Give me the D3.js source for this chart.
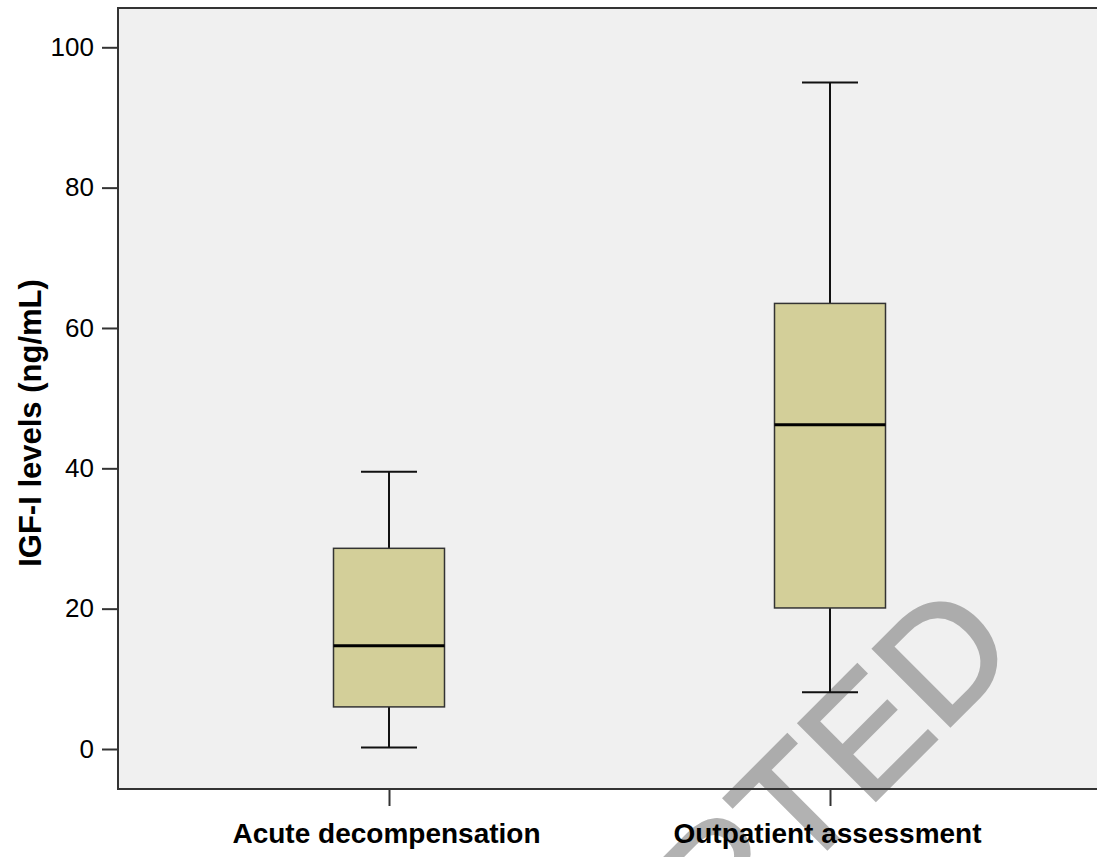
<!DOCTYPE html>
<html>
<head>
<meta charset="utf-8">
<script src="https://cdn.jsdelivr.net/npm/d3@7"></script>
<style>
  body { margin: 0; background: #fff; }
  svg { display: block; font-family: "Liberation Sans", Arial, sans-serif; }
</style>
</head>
<body>
<div id="chart"></div>
<script>
// box plot summary values
const groups = ['Acute decompensation', 'Outpatient assessment'];
const whiskerLow = [0.2, 8.1];
const q1 = [6.0, 20.1];
const median = [14.7, 46.2];
const q3 = [28.6, 63.5];
const whiskerHigh = [39.5, 95.0];
const yTicks = [0, 20, 40, 60, 80, 100];

const width = 1097, height = 857;
const margin = {top: 8, right: -4, bottom: 68, left: 118};

const svg = d3.select('#chart').append('svg')
  .attr('width', width)
  .attr('height', height);

const w = width - margin.left - margin.right;
const h = height - margin.top - margin.bottom;

const x = d3.scalePoint()
  .domain(groups)
  .range([271, 712]);

const y = d3.scaleLinear()
  .domain([-5.7, 105.6])
  .range([h, 0]);

const g = svg.append('g')
  .attr('transform', `translate(${margin.left},${margin.top})`);

g.append('rect')
  .attr('width', w)
  .attr('height', h)
  .attr('fill', '#f0f0f0');

// watermark, under the marks and texts
svg.append('g')
  .attr('opacity', 0.6)
  .append('text')
  .attr('transform', 'translate(1022,654) rotate(-45)')
  .attr('text-anchor', 'end')
  .attr('font-size', 158)
  .attr('fill', '#808080')
  .attr('stroke', '#808080')
  .attr('stroke-width', 3)
  .text('ACCEPTED');

const plot = svg.append('g')
  .attr('transform', `translate(${margin.left},${margin.top})`);

const boxW = 111, capW = 56;
const data = groups.map((d, i) => ({
  name: d, lo: whiskerLow[i], q1: q1[i], med: median[i], q3: q3[i], hi: whiskerHigh[i]
}));

const box = plot.selectAll('.box')
  .data(data)
  .enter().append('g')
  .attr('class', 'box')
  .attr('transform', d => `translate(${x(d.name)},0)`);

box.append('line')
  .attr('y1', d => y(d.hi)).attr('y2', d => y(d.q3))
  .attr('stroke', '#111').attr('stroke-width', 2);
box.append('line')
  .attr('y1', d => y(d.q1)).attr('y2', d => y(d.lo))
  .attr('stroke', '#111').attr('stroke-width', 2);
box.append('line')
  .attr('x1', -capW / 2).attr('x2', capW / 2)
  .attr('y1', d => y(d.hi)).attr('y2', d => y(d.hi))
  .attr('stroke', '#111').attr('stroke-width', 2);
box.append('line')
  .attr('x1', -capW / 2).attr('x2', capW / 2)
  .attr('y1', d => y(d.lo)).attr('y2', d => y(d.lo))
  .attr('stroke', '#111').attr('stroke-width', 2);
box.append('rect')
  .attr('x', -boxW / 2)
  .attr('width', boxW)
  .attr('y', d => y(d.q3))
  .attr('height', d => y(d.q1) - y(d.q3))
  .attr('fill', '#d3cf99')
  .attr('stroke', '#333')
  .attr('stroke-width', 1.5);
box.append('line')
  .attr('x1', -boxW / 2).attr('x2', boxW / 2)
  .attr('y1', d => y(d.med)).attr('y2', d => y(d.med))
  .attr('stroke', '#000').attr('stroke-width', 3);

// frame
plot.append('path')
  .attr('d', `M${w},0H0V${h}H${w}`)
  .attr('fill', 'none')
  .attr('stroke', '#333')
  .attr('stroke-width', 2);

// axes
const yAxis = plot.append('g')
  .call(d3.axisLeft(y).tickValues(yTicks).tickSize(16).tickPadding(8));
yAxis.select('.domain').remove();
yAxis.selectAll('line').attr('stroke', '#333').attr('stroke-width', 2);
yAxis.selectAll('text')
  .attr('font-size', 26)
  .attr('font-family', '"Liberation Sans", Arial, sans-serif')
  .attr('fill', '#000');

const xAxis = plot.append('g')
  .attr('transform', `translate(0,${h})`)
  .call(d3.axisBottom(x).tickSize(17).tickPadding(17));
xAxis.select('.domain').remove();
xAxis.selectAll('line').attr('stroke', '#333').attr('stroke-width', 2);
xAxis.selectAll('text')
  .attr('font-size', 28)
  .attr('font-weight', 'bold')
  .attr('font-family', '"Liberation Sans", Arial, sans-serif')
  .attr('fill', '#000')
  .attr('dx', -3);

svg.append('text')
  .attr('transform', `translate(41,423) rotate(-90)`)
  .attr('text-anchor', 'middle')
  .attr('font-size', 31)
  .attr('font-weight', 'bold')
  .text('IGF-I levels (ng/mL)');
</script>
</body>
</html>
